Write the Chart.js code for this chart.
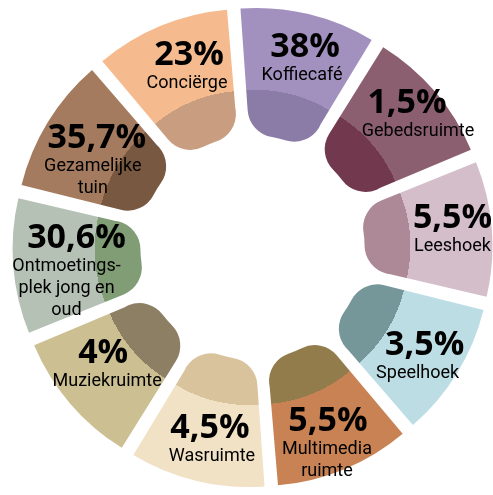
<!DOCTYPE html>
<html>
<head>
<meta charset="utf-8">
<script src="https://cdn.jsdelivr.net/npm/chart.js@4.4.1/dist/chart.umd.min.js"></script>
<style>
  html, body { margin: 0; padding: 0; background: #fff; }
</style>
</head>
<body>
<canvas id="chart" width="493" height="495"></canvas>
<script>
// one entry per slice, clockwise from the top
const categories = [
  ["Koffiecafé"], ["Gebedsruimte"], ["Leeshoek"], ["Speelhoek"], ["Multimedia", "ruimte"],
  ["Wasruimte"], ["Muziekruimte"], ["Ontmoetings-", "plek jong en", "oud"], ["Gezamelijke", "tuin"], ["Conciërge"]
];
const percentages = [38, 1.5, 5.5, 3.5, 5.5, 4.5, 4, 30.6, 35.7, 23];
// every slice takes the same share of the circle
const sliceShare = [1, 1, 1, 1, 1, 1, 1, 1, 1, 1];

const lightColors = ["#a291bf", "#8b5f6f", "#d3bec9", "#bbdde3", "#c88254",
                     "#f1e1c5", "#ccbf92", "#b6c1b6", "#a47b5e", "#f5bb8f"];
const darkColors  = ["#8a7ba7", "#71384e", "#ad8896", "#75979a", "#937c4b",
                     "#d9c39d", "#8c7f64", "#819d76", "#785840", "#c99d7f"];

// where the percentage baseline sits: distance from centre and angle (deg, clockwise from top)
const labelRadius = [198, 205, 201, 203, 198, 195, 189, 176, 185, 193];
const labelAngle  = [15.4, 48.9, 84.3, 122, 157.6, 192.6, 232.2, 270, 302.7, 340.8];
// sideways nudge of the name lines under each percentage
const nameShift   = [-3, 11, 0, -7, -1, 2, 4, -10, -4, -2];

const SHIFT = 18;    // how far each slice is pushed out
const DARK_R = 140;  // edge of the darker inner band

function bandFill(context) {
  const i = context.dataIndex;
  const area = context.chart.chartArea;
  if (!area) return lightColors[i];
  const cx = (area.left + area.right) / 2;
  const cy = (area.top + area.bottom) / 2;
  const g = context.chart.ctx.createRadialGradient(cx, cy, 0, cx, cy, 300);
  const stop = DARK_R / 300;
  g.addColorStop(0, darkColors[i]);
  g.addColorStop(stop, darkColors[i]);
  g.addColorStop(stop, lightColors[i]);
  g.addColorStop(1, lightColors[i]);
  return g;
}

const sliceLabels = {
  id: "sliceLabels",
  afterDatasetsDraw(chart) {
    const first = chart.getDatasetMeta(0).data[0];
    const cx = first.x, cy = first.y;
    const c = chart.ctx;
    c.save();
    c.fillStyle = "#000";
    c.textAlign = "center";
    c.textBaseline = "alphabetic";
    percentages.forEach((v, i) => {
      const a = labelAngle[i] * Math.PI / 180;
      const x = cx + labelRadius[i] * Math.sin(a);
      const y = cy - labelRadius[i] * Math.cos(a);
      c.font = '700 34px "Open Sans", "DejaVu Sans", sans-serif';
      c.fillText(String(v).replace(".", ",") + "%", x, y);
      c.font = '18px Roboto, "Liberation Sans", sans-serif';
      categories[i].forEach((line, j) => c.fillText(line, x + nameShift[i], y + 23 + 22 * j));
    });
    c.restore();
  }
};

new Chart(document.getElementById("chart"), {
  type: "doughnut",
  data: {
    labels: categories,
    datasets: [{
      data: sliceShare,
      backgroundColor: bandFill,
      borderWidth: 0,
      offset: SHIFT * 4,
      borderRadius: { outerStart: 0, outerEnd: 0, innerStart: 60, innerEnd: 60 }
    }]
  },
  options: {
    responsive: false,
    animation: false,
    events: [],
    rotation: -4.5,
    radius: 214.6,
    cutout: "40.4%",
    layout: { padding: { left: 12 } },
    plugins: {
      legend: { display: false },
      tooltip: { enabled: false }
    }
  },
  plugins: [sliceLabels]
});
</script>
</body>
</html>
